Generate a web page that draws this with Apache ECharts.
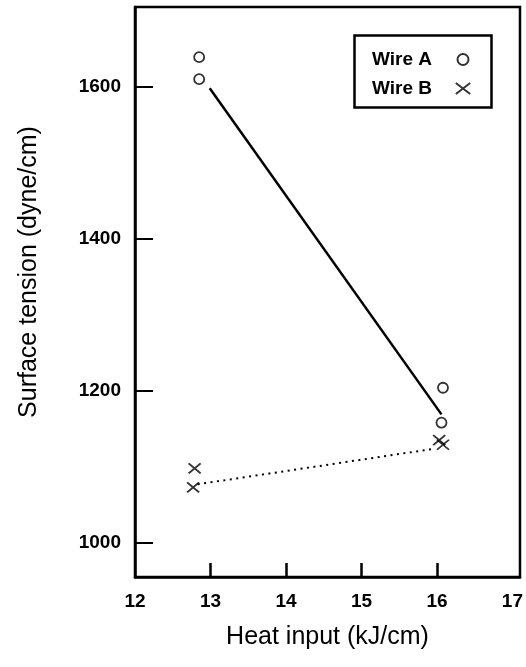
<!DOCTYPE html>
<html>
<head>
<meta charset="utf-8">
<script src="https://cdn.jsdelivr.net/npm/echarts@6/dist/echarts.min.js"></script>
<style>
  html, body { margin: 0; padding: 0; background: #fff; }
  #chart { width: 526px; height: 667px; }
</style>
</head>
<body>
<div id="chart"></div>
<script>
// Measured points: heat input (kJ/cm) vs surface tension (dyne/cm)
const wireAHeat = [12.85, 12.85, 16.08, 16.06];
const wireATension = [1639, 1610, 1204, 1158];
const wireBHeat = [12.79, 12.77, 16.03, 16.08];
const wireBTension = [1098, 1073, 1135, 1129];

// Trend lines through each wire's results
const trendAHeat = [12.99, 16.06];
const trendATension = [1598, 1169];
const trendBHeat = [12.83, 15.98];
const trendBTension = [1077, 1124];

// Axis ticks
const xLabels = [12, 13, 14, 15, 16, 17];
const xTickMarks = [13, 14, 15, 16];
const yLabels = [1000, 1200, 1400, 1600];

const pairs = (xs, ys) => xs.map((x, i) => [x, ys[i]]);

const FONT = 'Liberation Sans, Arial, Helvetica, sans-serif';
const crossPath = 'path://M0,0L13,10M13,0L0,10';

const chart = echarts.init(document.getElementById('chart'), null, { renderer: 'canvas' });

chart.setOption({
  animation: false,
  backgroundColor: '#fff',
  grid: {
    left: 135, right: 5, top: 7, bottom: 90,
    show: true, borderColor: '#000', borderWidth: 2.5
  },
  xAxis: {
    type: 'value',
    min: 12, max: 17.1,
    name: 'Heat input (kJ/cm)',
    nameLocation: 'middle',
    nameGap: 48,
    nameTextStyle: { fontFamily: FONT, fontSize: 25, color: '#000' },
    axisLine: { show: true, lineStyle: { color: '#000', width: 2.5 } },
    axisTick: { show: true, inside: true, length: 14, customValues: xTickMarks, lineStyle: { color: '#000', width: 2.5 } },
    axisLabel: {
      customValues: xLabels, margin: 15, fontFamily: FONT, fontSize: 19, fontWeight: 'bold', color: '#000',
      formatter: v => String(v)
    },
    splitLine: { show: false }
  },
  yAxis: {
    type: 'value',
    min: 955, max: 1705,
    name: 'Surface tension (dyne/cm)',
    nameLocation: 'middle',
    nameGap: 93,
    nameRotate: 90,
    nameTextStyle: { fontFamily: FONT, fontSize: 25, color: '#000', padding: [0, 0, 0, 40] },
    axisLine: { show: true, lineStyle: { color: '#000', width: 2.5 } },
    axisTick: { show: true, inside: true, length: 18, customValues: yLabels, lineStyle: { color: '#000', width: 2 } },
    axisLabel: {
      customValues: yLabels, margin: 14, fontFamily: FONT, fontSize: 19, fontWeight: 'bold', color: '#000',
      formatter: v => String(v)
    },
    splitLine: { show: false }
  },
  legend: {
    left: 367, top: 45,
    orient: 'vertical',
    align: 'right',
    itemWidth: 52, itemHeight: 11,
    itemGap: 10,
    selectedMode: false,
    textStyle: { fontFamily: FONT, fontSize: 19, fontWeight: 'bold', color: '#000' },
    data: [
      { name: 'Wire A', icon: 'circle', itemStyle: { color: 'transparent', borderColor: '#000', borderWidth: 2 } },
      { name: 'Wire B', icon: crossPath, itemStyle: { color: 'transparent', borderColor: '#000', borderWidth: 2 } }
    ]
  },
  graphic: [{
    type: 'rect',
    left: 352, top: 33,
    shape: { width: 137, height: 72 },
    style: { fill: 'none', stroke: '#000', lineWidth: 2.5 },
    z: 10
  }],
  series: [
    {
      name: 'Trend A', type: 'line', data: pairs(trendAHeat, trendATension),
      symbol: 'none', silent: true,
      lineStyle: { color: '#000', width: 2.5 }
    },
    {
      name: 'Trend B', type: 'line', data: pairs(trendBHeat, trendBTension),
      symbol: 'none', silent: true,
      lineStyle: { color: '#000', width: 2, type: [2, 4.5] }
    },
    {
      name: 'Wire A', type: 'scatter', data: pairs(wireAHeat, wireATension),
      symbol: 'circle', symbolSize: 10,
      itemStyle: { color: 'transparent', borderColor: '#000', borderWidth: 1.8 }
    },
    {
      name: 'Wire B', type: 'scatter', data: pairs(wireBHeat, wireBTension),
      symbol: crossPath, symbolSize: [12, 10],
      itemStyle: { color: 'transparent', borderColor: '#000', borderWidth: 1.8 }
    }
  ]
});
</script>
</body>
</html>
